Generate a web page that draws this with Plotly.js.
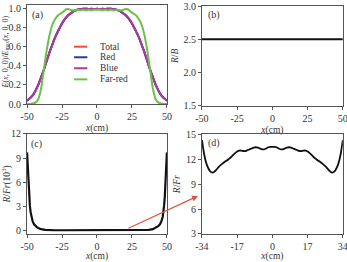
<!DOCTYPE html>
<html><head><meta charset="utf-8">
<script src="https://cdn.plot.ly/plotly-3.0.1.min.js"></script>
<style>html,body{margin:0;padding:0;background:#fff}#plot{width:347px;height:262px}</style>
</head><body><div id="plot"></div>
<script>
// Panel (a): normalized irradiance profiles
const xA = [-50,-48,-46,-44,-42,-40,-38,-36,-34,-32,-30,-28,-26,-24,-22,-20,-18,-16,-14,-12,-10,-8,-6,-4,-2,0,2,4,6,8,10,12,14,16,18,20,22,24,26,28,30,32,34,36,38,40,42,44,46,48,50];
const totalY = [0.035,0.06,0.09,0.14,0.20,0.28,0.36,0.45,0.54,0.62,0.70,0.76,0.82,0.87,0.91,0.94,0.96,0.98,0.99,0.995,1.0,1.0,0.998,1.0,0.998,1.0,0.998,1.0,0.998,1.0,1.0,0.995,0.99,0.98,0.96,0.94,0.91,0.87,0.82,0.76,0.70,0.62,0.54,0.45,0.36,0.28,0.20,0.14,0.09,0.06,0.035];
const redY = [0.035,0.06,0.09,0.14,0.20,0.28,0.36,0.45,0.54,0.62,0.70,0.76,0.82,0.87,0.91,0.94,0.96,0.98,0.99,0.995,1.0,1.0,0.998,1.0,0.998,1.0,0.998,1.0,0.998,1.0,1.0,0.995,0.99,0.98,0.96,0.94,0.91,0.87,0.82,0.76,0.70,0.62,0.54,0.45,0.36,0.28,0.20,0.14,0.09,0.06,0.035];
const blueY = [0.035,0.06,0.09,0.14,0.20,0.28,0.36,0.45,0.54,0.62,0.70,0.76,0.82,0.87,0.91,0.94,0.96,0.98,0.99,0.995,1.0,1.0,0.998,1.0,0.998,1.0,0.998,1.0,0.998,1.0,1.0,0.995,0.99,0.98,0.96,0.94,0.91,0.87,0.82,0.76,0.70,0.62,0.54,0.45,0.36,0.28,0.20,0.14,0.09,0.06,0.035];
const farRedY = [0.0,0.0,0.005,0.015,0.05,0.16,0.36,0.56,0.72,0.83,0.89,0.93,0.95,0.97,0.995,0.995,0.985,0.985,0.99,0.985,0.99,0.985,0.99,0.985,0.99,0.99,0.99,0.985,0.99,0.985,0.99,0.985,0.99,0.985,0.985,0.995,0.995,0.97,0.95,0.93,0.89,0.83,0.72,0.56,0.36,0.16,0.05,0.015,0.005,0.0,0.0];
const seriesNames = ["Total","Red","Blue","Far-red"];
const seriesColors = ["#ef4a3a","#233f96","#a53c9f","#6cc04a"];

// Panel (b): R/B ratio
const xB = [-50,-25,0,25,50];
const rbY = [2.5,2.5,2.5,2.5,2.5];

// Panel (c): R/Fr (10^3), full width
const xC = [-50,-49.5,-49,-48.5,-48,-47.5,-47,-46,-45,-44,-43,-42,-40,-37,-34,-30,-25,-17,0,17,25,30,34,37,40,42,43,44,45,46,47,47.5,48,48.5,49,49.5,50];
const rfrC = [9.7,7.5,5.6,4.2,3.1,2.3,1.7,1.1,0.75,0.55,0.4,0.3,0.15,0.05,0.015,0.011,0.012,0.013,0.0135,0.013,0.012,0.011,0.015,0.05,0.15,0.3,0.4,0.55,0.75,1.1,1.7,2.3,3.1,4.2,5.6,7.5,9.7];

// Panel (d): R/Fr, central region
const xD = [-34,-33,-32,-31,-30,-29,-28,-27,-26,-25,-24,-23,-22,-21,-20,-19,-18,-17,-16,-15,-14,-13,-12,-11,-10,-9,-8,-7,-6,-5,-4,-3,-2,-1,0,1,2,3,4,5,6,7,8,9,10,11,12,13,14,15,16,17,18,19,20,21,22,23,24,25,26,27,28,29,30,31,32,33,34];
const rfrD = [14.3,12.7,11.6,10.95,10.55,10.4,10.5,10.75,11.05,11.3,11.5,11.7,11.85,12.05,12.25,12.5,12.75,12.95,13.05,13.05,13.0,13.0,13.1,13.2,13.3,13.4,13.45,13.4,13.3,13.2,13.2,13.3,13.45,13.5,13.5,13.5,13.45,13.3,13.2,13.2,13.3,13.4,13.45,13.4,13.3,13.2,13.1,13.0,13.0,13.05,13.05,12.95,12.75,12.5,12.25,12.05,11.85,11.7,11.5,11.3,11.05,10.75,10.5,10.4,10.55,10.95,11.6,12.7,14.3];

const ticksA = [-50,-25,0,25,50];
const ticksAText = ["-50","-25","0","25","50"];
const ticksD = [-34,-17,0,17,34];
const ticksDText = ["-34","-17","0","17","34"];

const FONT = "Liberation Serif";
const TXT = "#333";
const LINE = "#555";

function ax(extra){
  return Object.assign({
    showline:true, mirror:true, linecolor:LINE, linewidth:1,
    ticks:"outside", ticklen:3, tickcolor:LINE, tickwidth:1,
    showgrid:false, zeroline:false, fixedrange:true, ticklabeloverflow:"allow",
    tickfont:{family:FONT,size:10,color:TXT}
  }, extra);
}
function xt(){ return {text:"<i>x</i>(cm)", font:{family:FONT,size:9.5,color:TXT}, standoff:3}; }

const ys = [totalY, redY, blueY, farRedY];
const traces = [];
ys.forEach((y,i)=>{
  traces.push({x:xA, y:y, xaxis:"x", yaxis:"y", mode:"lines", name:seriesNames[i],
    line:{color:seriesColors[i], width:2, shape:"spline", smoothing:0.6}, showlegend:false});
});
traces.push({x:xB, y:rbY, xaxis:"x2", yaxis:"y2", mode:"lines", line:{color:"#111",width:2}, showlegend:false});
traces.push({x:xC, y:rfrC, xaxis:"x3", yaxis:"y3", mode:"lines", line:{color:"#111",width:2.2}, showlegend:false});
traces.push({x:xD, y:rfrD, xaxis:"x4", yaxis:"y4", mode:"lines", line:{color:"#111",width:1.8, shape:"spline", smoothing:0.6}, showlegend:false});

// compact legend inside panel (a)
const legRows = [0.579, 0.472, 0.361, 0.249];
const shapes = [];
const annotations = [];
seriesNames.forEach((n,i)=>{
  shapes.push({type:"line", xref:"x domain", yref:"y domain", x0:0.336, x1:0.431, y0:legRows[i], y1:legRows[i],
    line:{color:seriesColors[i], width:2}});
  annotations.push({xref:"x domain", yref:"y domain", x:0.505, y:legRows[i], text:n, showarrow:false,
    xanchor:"left", yanchor:"middle", font:{family:FONT,size:9.5,color:TXT}});
});
[["(a)","x","y",0.075,0.90],["(b)","x2","y2",0.085,0.91],["(c)","x3","y3",0.07,0.90],["(d)","x4","y4",0.085,0.91]].forEach(p=>{
  annotations.push({xref:p[1]+" domain", yref:p[2]+" domain", x:p[3], y:p[4], text:p[0], showarrow:false,
    xanchor:"center", yanchor:"middle", font:{family:FONT,size:10,color:TXT}});
});
// y title of panel (a), squeezed at the left edge
annotations.push({xref:"paper", yref:"paper", x:0, y:0.80, xanchor:"left", yanchor:"middle", textangle:-90,
  text:"<i>E</i>(<i>x</i>, 0, 0)/<i>E</i><sub>max</sub>(<i>x</i>, 0, 0)", showarrow:false, borderpad:0,
  font:{family:FONT,size:8,color:TXT}});
// red arrow from panel (c) to panel (d)
annotations.push({xref:"paper", yref:"paper", x:198/347, y:1-196/262, ax:-71, ay:33, text:"",
  showarrow:true, arrowhead:2, arrowsize:1, arrowwidth:1.2, arrowcolor:"#e2533e"});

const layout = {
  width:347, height:262, margin:{l:0,r:0,t:0,b:0},
  paper_bgcolor:"#fff", plot_bgcolor:"#fff", showlegend:false,
  xaxis: ax({domain:[0.078,0.481], range:[-50,50], tickvals:ticksA, ticktext:ticksAText, anchor:"y", title:xt()}),
  yaxis: ax({domain:[0.603,0.981], range:[0,1.04], tickvals:[0,0.2,0.4,0.6,0.8,1.0], tickformat:".1f", anchor:"x"}),
  xaxis2: ax({domain:[0.582,0.988], range:[-50,50], tickvals:ticksA, ticktext:ticksAText, anchor:"y2", title:xt()}),
  yaxis2: ax({domain:[0.597,0.977], range:[1.5,3.0], tickvals:[1.5,2.0,2.5,3.0], tickformat:".1f", anchor:"x2",
    title:{text:"<i>R</i>/<i>B</i>", font:{family:FONT,size:9.5,color:TXT}, standoff:3}}),
  xaxis3: ax({domain:[0.078,0.481], range:[-50,50], tickvals:ticksA, ticktext:ticksAText, anchor:"y3", title:xt()}),
  yaxis3: ax({domain:[0.107,0.489], range:[-0.45,12], tickvals:[0,3,6,9,12], anchor:"x3",
    title:{text:"<i>R</i>/<i>Fr</i>(10<sup>3</sup>)", font:{family:FONT,size:9.5,color:TXT}, standoff:3}}),
  xaxis4: ax({domain:[0.582,0.988], range:[-34,34], tickvals:ticksD, ticktext:ticksDText, anchor:"y4", title:xt()}),
  yaxis4: ax({domain:[0.107,0.487], range:[3,15], tickvals:[3,6,9,12,15], anchor:"x4",
    title:{text:"<i>R</i>/<i>Fr</i>", font:{family:FONT,size:9.5,color:TXT}, standoff:3}}),
  shapes: shapes, annotations: annotations
};
Plotly.newPlot("plot", traces, layout, {staticPlot:true, displayModeBar:false});
</script></body></html>
